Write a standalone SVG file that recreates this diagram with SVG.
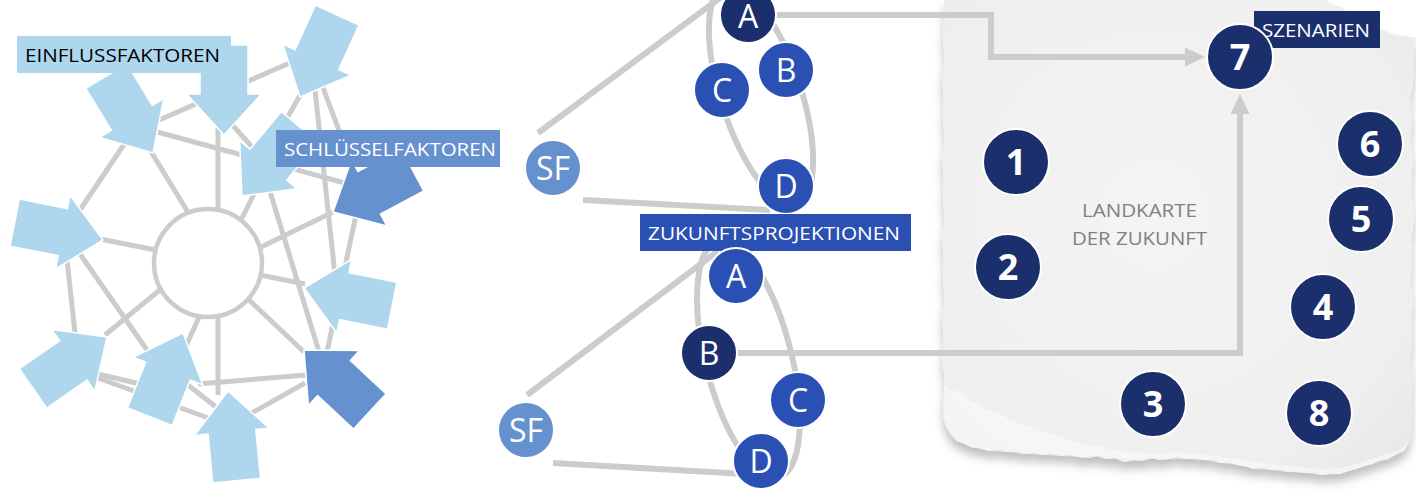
<svg xmlns="http://www.w3.org/2000/svg" xmlns:xlink="http://www.w3.org/1999/xlink" width="1416" height="491" viewBox="0 0 1416 491">
<defs>
<style>
.ln{stroke:#cccccc;stroke-width:5;fill:none;stroke-linecap:butt}
.cn{stroke:#cccccc;stroke-width:6;fill:none}
.la{fill:#aed7ee;stroke:#ffffff;stroke-width:1.5}
.da{fill:#6591cf;stroke:#ffffff;stroke-width:1.5}
.lbl{font-family:"Open Sans","Liberation Sans",sans-serif;font-size:19px}
.nv{fill:#1c2f6d;stroke:#ffffff;stroke-width:2}
.bl{fill:#2b50b4;stroke:#ffffff;stroke-width:2}
.sf{fill:#6591cf;stroke:#ffffff;stroke-width:2}
.let{font-family:"Open Sans","Liberation Sans",sans-serif;font-size:32px;fill:#ffffff;text-anchor:middle}
.num{font-family:"Open Sans","Liberation Sans",sans-serif;font-size:36px;font-weight:bold;fill:#ffffff;text-anchor:middle}
</style>
<path id="blk" d="M0,0 L-41,-37.5 L-41,-24 L-90,-24 L-90,24 L-41,24 L-41,37.5 Z"/>
<marker id="ah" viewBox="0 0 20 19" refX="3" refY="9.5" markerWidth="20" markerHeight="19" markerUnits="userSpaceOnUse" orient="auto">
<path d="M0,0 L20,9.5 L0,19 Z" fill="#cccccc"/>
</marker>
<radialGradient id="pg" cx="0.45" cy="0.45" r="0.75">
<stop offset="0" stop-color="#f4f4f4"/>
<stop offset="0.75" stop-color="#efefef"/>
<stop offset="1" stop-color="#e7e7e7"/>
</radialGradient>
<filter id="sh" x="-5%" y="-5%" width="110%" height="120%">
<feDropShadow dx="0" dy="8" stdDeviation="5" flood-color="#000000" flood-opacity="0.25"/>
</filter>
</defs>

<g id="paper">
<path filter="url(#sh)" fill="url(#pg)" d="M944,0 L1326,0 L1334,5 L1341,7 L1347,12 L1355,13 L1362,21 L1370,24 L1377,29 L1386,31 L1394,35 L1405,36 L1416,38 L1414,60 L1413,80 L1410,100 L1412,120 L1410,140 L1413,160 L1411,180 L1412,200 L1414,220 L1411,240 L1412,260 L1410,280 L1413,300 L1411,320 L1412,340 L1410,360 L1413,380 L1411,400 L1412,420 L1410,440 L1404,451 L1396,454 L1388,459 L1379,460 L1372,464 L1363,466 L1356,469 L1347,471 L1340,474 L1331,473 L1322,475 L1313,472 L1305,473 L1297,471 L1288,472 L1280,469 L1271,470 L1262,467 L1254,469 L1246,466 L1238,465 L1229,462 L1221,463 L1212,459 L1203,460 L1195,458 L1186,459 L1177,456 L1168,459 L1160,460 L1151,458 L1142,461 L1133,460 L1124,462 L1115,458 L1106,459 L1097,456 L1088,458 L1079,457 L1070,454 L1061,456 L1052,453 L1043,455 L1034,452 L1025,454 L1016,451 L1007,452 L998,449 L989,451 L980,448 L971,447 L964,443 L957,441 L951,435 L947,428 L944,420 L943,400 L945,380 L942,360 L944,340 L942,320 L945,300 L943,280 L944,260 L942,240 L945,220 L943,200 L944,180 L942,160 L945,140 L943,120 L944,100 L942,80 L945,60 L943,40 L944,20 Z"/>
<path fill="#fafafa" opacity="0.6" d="M944,385 L952,392 L960,390 L968,400 L978,404 L988,410 L998,412 L1010,420 L1022,424 L1034,428 L1046,433 L1058,436 L1070,440 L1084,444 L1098,446 L1112,450 L1128,452 L1144,453 L1160,455 L1176,452 L1192,454 L1210,455 L1226,458 L1244,460 L1262,463 L1280,465 L1300,467 L1320,469 L1340,468 L1360,463 L1380,456 L1400,450 L1410,440 L1404,451 L1388,459 L1372,464 L1356,469 L1340,474 L1322,475 L1305,473 L1288,472 L1271,470 L1254,469 L1238,465 L1221,463 L1203,460 L1186,459 L1168,459 L1151,458 L1133,460 L1115,458 L1097,456 L1079,457 L1061,456 L1043,455 L1025,454 L1007,452 L989,451 L971,447 L957,441 L947,428 L944,420 Z"/>
<text class="lbl" x="1139.5" y="217" text-anchor="middle" fill="#808080" textLength="115" lengthAdjust="spacingAndGlyphs">LANDKARTE</text>
<text class="lbl" x="1139.5" y="245" text-anchor="middle" fill="#808080" textLength="135" lengthAdjust="spacingAndGlyphs">DER ZUKUNFT</text>
</g>

<g id="connectors">
<line class="ln" x1="150" y1="124" x2="292" y2="62"/>
<line class="ln" x1="150" y1="130" x2="345" y2="183"/>
<line class="ln" x1="218" y1="128" x2="218" y2="211"/>
<line class="ln" x1="228" y1="120" x2="252" y2="147"/>
<line class="ln" x1="125" y1="143" x2="78" y2="213"/>
<line class="ln" x1="150" y1="150" x2="189" y2="214"/>
<line class="ln" x1="100" y1="239" x2="156" y2="250"/>
<line class="ln" x1="240" y1="222" x2="256" y2="190"/>
<line class="ln" x1="283" y1="125" x2="302" y2="92"/>
<line class="ln" x1="315" y1="90" x2="335" y2="275"/>
<line class="ln" x1="322" y1="85" x2="350" y2="160"/>
<line class="ln" x1="259" y1="248" x2="333" y2="212"/>
<line class="ln" x1="268" y1="185" x2="320" y2="355"/>
<line class="ln" x1="357" y1="210" x2="327" y2="352"/>
<line class="ln" x1="260" y1="275" x2="305" y2="284"/>
<line class="ln" x1="247" y1="298" x2="304" y2="352"/>
<line class="ln" x1="218" y1="316" x2="218" y2="395"/>
<line class="ln" x1="198" y1="384" x2="306" y2="375"/>
<line class="ln" x1="250" y1="414" x2="305" y2="383"/>
<line class="ln" x1="80" y1="254" x2="147" y2="350"/>
<line class="ln" x1="67" y1="260" x2="75" y2="333"/>
<line class="ln" x1="161" y1="289" x2="105" y2="335"/>
<line class="ln" x1="200" y1="315" x2="186" y2="346"/>
<line class="ln" x1="98" y1="374" x2="140" y2="384"/>
<line class="ln" x1="98" y1="378" x2="225" y2="424"/>
<line class="ln" x1="183" y1="381" x2="216" y2="407"/>
<line class="cn" x1="538" y1="133" x2="724" y2="-5"/>
<line class="cn" x1="583" y1="200" x2="770" y2="210"/>
<ellipse class="cn" cx="761" cy="95" rx="40" ry="115" transform="rotate(-18 761 95)"/>
<line class="cn" x1="527" y1="395" x2="718" y2="251"/>
<line class="cn" x1="553" y1="463" x2="745" y2="474"/>
<ellipse class="cn" cx="748.5" cy="359" rx="43" ry="122" transform="rotate(-14.3 748.5 359)"/>
<path class="cn" d="M776,15 H991 V57 H1188" marker-end="url(#ah)"/>
<path class="cn" d="M736,353 H1240 V111" marker-end="url(#ah)"/>
</g>

<g id="center-node"><circle cx="208" cy="263" r="54" fill="#ffffff" stroke="#cccccc" stroke-width="4.5"/></g>
<g id="arrow-1"><use xlink:href="#blk" class="la" transform="translate(153,153) rotate(58.8)"/></g>
<g id="arrow-2"><use xlink:href="#blk" class="la" transform="translate(224,135) rotate(90)"/></g>
<g id="arrow-3"><use xlink:href="#blk" class="la" transform="translate(300,97) rotate(114.4)"/></g>
<g id="arrow-4"><use xlink:href="#blk" class="la" transform="translate(242,196) rotate(130)"/></g>
<g id="arrow-5"><use xlink:href="#blk" class="da" transform="translate(333,212) rotate(152)"/></g>
<g id="arrow-6"><use xlink:href="#blk" class="la" transform="translate(304,288) rotate(191.4)"/></g>
<g id="arrow-7"><use xlink:href="#blk" class="da" transform="translate(304,350) rotate(223)"/></g>
<g id="arrow-8"><use xlink:href="#blk" class="la" transform="translate(228,391) rotate(264.5)"/></g>
<g id="arrow-9"><use xlink:href="#blk" class="la" transform="translate(183,333) rotate(291.6)"/></g>
<g id="arrow-10"><use xlink:href="#blk" class="la" transform="translate(107,337) rotate(325.2)"/></g>
<g id="arrow-11"><use xlink:href="#blk" class="la" transform="translate(103,240) rotate(11.1)"/></g>

<g id="label-einfluss">
<rect x="17" y="36" width="214" height="37" fill="#aed7ee"/>
<text class="lbl" x="25" y="62" fill="#000000" textLength="195" lengthAdjust="spacingAndGlyphs">EINFLUSSFAKTOREN</text>
</g>
<g id="label-schluessel">
<rect x="276" y="130" width="224" height="37" fill="#6591cf"/>
<text class="lbl" x="284" y="156" fill="#ffffff" textLength="212" lengthAdjust="spacingAndGlyphs">SCHLÜSSELFAKTOREN</text>
</g>

<g id="top-SF"><circle class="sf" cx="553" cy="168" r="28"/><text class="let" x="553" y="179.5">SF</text></g>
<g id="top-A"><circle class="nv" cx="748" cy="15" r="28"/><text class="let" x="748" y="28">A</text></g>
<g id="top-B"><circle class="bl" cx="786" cy="70" r="28"/><text class="let" x="786" y="81.5">B</text></g>
<g id="top-C"><circle class="bl" cx="722" cy="90" r="28"/><text class="let" x="722" y="101.5">C</text></g>
<g id="top-D"><circle class="bl" cx="786" cy="186" r="28"/><text class="let" x="786" y="197.5">D</text></g>

<g id="label-zukunft">
<rect x="640" y="214" width="271" height="37" fill="#2b50b4"/>
<text class="lbl" x="648" y="240" fill="#ffffff" textLength="252" lengthAdjust="spacingAndGlyphs">ZUKUNFTSPROJEKTIONEN</text>
</g>

<g id="bot-SF"><circle class="sf" cx="526" cy="430" r="28"/><text class="let" x="526" y="441.5">SF</text></g>
<g id="bot-A"><circle class="bl" cx="736" cy="276" r="28"/><text class="let" x="736" y="287.5">A</text></g>
<g id="bot-B"><circle class="nv" cx="709" cy="353" r="28"/><text class="let" x="709" y="364.5">B</text></g>
<g id="bot-C"><circle class="bl" cx="798" cy="400" r="28"/><text class="let" x="798" y="411.5">C</text></g>
<g id="bot-D"><circle class="bl" cx="761" cy="461" r="28"/><text class="let" x="761" y="472.5">D</text></g>

<g id="label-szenarien">
<rect x="1254" y="11" width="126" height="37" fill="#1c2f6d"/>
<text class="lbl" x="1262" y="37" fill="#ffffff" textLength="108" lengthAdjust="spacingAndGlyphs">SZENARIEN</text>
</g>
<g id="s1"><circle class="nv" cx="1016" cy="162" r="33"/><text class="num" x="1016" y="175">1</text></g>
<g id="s2"><circle class="nv" cx="1008" cy="267" r="33"/><text class="num" x="1008" y="280">2</text></g>
<g id="s3"><circle class="nv" cx="1153" cy="404" r="33"/><text class="num" x="1153" y="417">3</text></g>
<g id="s4"><circle class="nv" cx="1323" cy="307" r="33"/><text class="num" x="1323" y="320">4</text></g>
<g id="s5"><circle class="nv" cx="1361" cy="219" r="33"/><text class="num" x="1361" y="232">5</text></g>
<g id="s6"><circle class="nv" cx="1370" cy="144" r="33"/><text class="num" x="1370" y="157">6</text></g>
<g id="s7"><circle class="nv" cx="1240" cy="57" r="33"/><text class="num" x="1240" y="70">7</text></g>
<g id="s8"><circle class="nv" cx="1319" cy="413" r="33"/><text class="num" x="1319" y="426">8</text></g>
</svg>
